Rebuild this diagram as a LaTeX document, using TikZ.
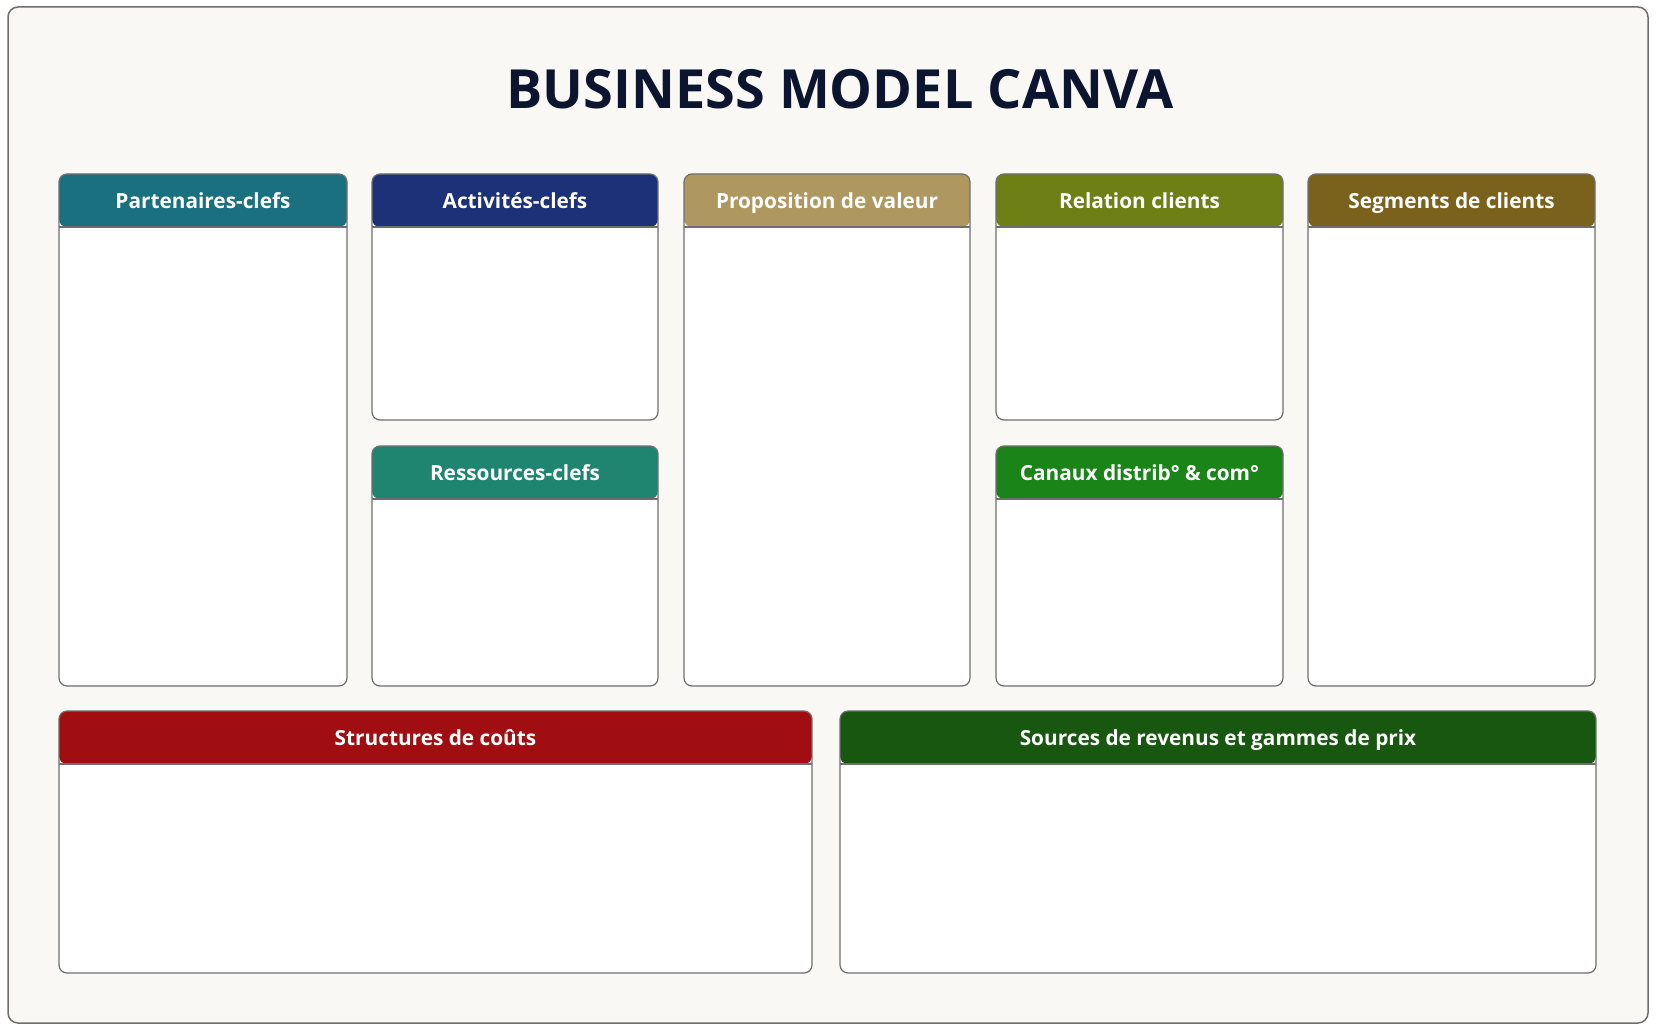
\documentclass[tikz,border=0pt]{standalone}
\usepackage{fontspec}
\setmainfont{Open Sans}
\usepackage{tikz}
\definecolor{bgcanva}{RGB}{249,248,244}
\definecolor{cardline}{RGB}{110,110,110}
\definecolor{titleblue}{RGB}{12,21,48}
\definecolor{pkcol}{RGB}{27,112,128}
\definecolor{akcol}{RGB}{28,49,119}
\definecolor{rkcol}{RGB}{31,133,112}
\definecolor{pvcol}{RGB}{175,152,96}
\definecolor{rccol}{RGB}{110,127,22}
\definecolor{cdcol}{RGB}{26,132,25}
\definecolor{sccol}{RGB}{122,97,28}
\definecolor{stcol}{RGB}{160,14,18}
\definecolor{srcol}{RGB}{23,87,15}

\tikzset{
  card/.style={draw=cardline, fill=white, line width=0.6pt, rounded corners=4pt,
    path picture={
      \fill[#1] (path picture bounding box.north west) rectangle ([yshift=-26.5pt]path picture bounding box.north east);
      \draw[cardline, line width=0.6pt] ([yshift=-26.5pt]path picture bounding box.north west) -- ([yshift=-26.5pt]path picture bounding box.north east);
    }},
  hdr/.style={text=white, font=\bfseries\fontsize{10.4}{12}\selectfont, inner sep=0pt, anchor=base}
}

\begin{document}
\begin{tikzpicture}[x=0.5pt, y=-0.5pt]
        \useasboundingbox (0,0) rectangle (1657,1032);
        \node[draw=cardline, fill=bgcanva, line width=0.75pt, rounded corners=5pt, minimum width=820pt, minimum height=508pt, inner sep=0pt] (frame) at (828,515) {};
        \node[text=titleblue, font=\bfseries\fontsize{27}{32}\selectfont] (title) at (840,89) {BUSINESS MODEL CANVA};

        \node[card=pkcol, minimum width=144pt, minimum height=256pt] (pk) at (203,430) {};
        \node[card=akcol, minimum width=143pt, minimum height=123pt] (ak) at (515,297) {};
        \node[card=rkcol, minimum width=143pt, minimum height=120pt] (rk) at (515,566) {};
        \node[card=pvcol, minimum width=143pt, minimum height=256pt] (pv) at (827,430) {};
        \node[card=rccol, minimum width=143.5pt, minimum height=123pt] (rc) at (1139.5,297) {};
        \node[card=cdcol, minimum width=143.5pt, minimum height=120pt] (cd) at (1139.5,566) {};
        \node[card=sccol, minimum width=143.5pt, minimum height=256pt] (sc) at (1451.5,430) {};
        \node[card=stcol, minimum width=376.5pt, minimum height=131pt] (st) at (435.5,842) {};
        \node[card=srcol, minimum width=378pt, minimum height=131pt] (sr) at (1218,842) {};

        \node[hdr] (pk-t) at ([yshift=-17.5pt]pk.north) {Partenaires-clefs};
        \node[hdr] (ak-t) at ([yshift=-17.5pt]ak.north) {Activités-clefs};
        \node[hdr] (rk-t) at ([yshift=-17.5pt]rk.north) {Ressources-clefs};
        \node[hdr] (pv-t) at ([yshift=-17.5pt]pv.north) {Proposition de valeur};
        \node[hdr] (rc-t) at ([yshift=-17.5pt]rc.north) {Relation clients};
        \node[hdr] (cd-t) at ([yshift=-17.5pt]cd.north) {Canaux distrib° \& com°};
        \node[hdr] (sc-t) at ([yshift=-17.5pt]sc.north) {Segments de clients};
        \node[hdr] (st-t) at ([yshift=-17.5pt]st.north) {Structures de coûts};
        \node[hdr] (sr-t) at ([yshift=-17.5pt]sr.north) {Sources de revenus et gammes de prix};
      \end{tikzpicture}
\end{document}
